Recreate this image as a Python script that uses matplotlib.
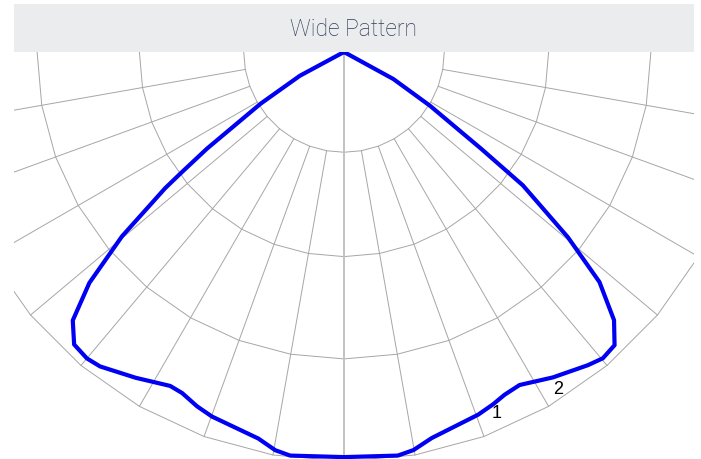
import numpy as np
import matplotlib
matplotlib.use("Agg")
import matplotlib.pyplot as plt

# Photometric curve (angle from nadir in degrees, negative = left; intensity in ring units)
angles = [-90, -61.7, -58.2, -54.8, -53.4, -52.7, -50.3, -47.8, -45.3, -42.7, -40.0,
          -37.8, -32.6, -27.5, -25.4, -22.5, -19.9, -12.5, -9.8, -7.6, 0,
          7.6, 9.9, 12.8, 20.3, 22.9, 25.1, 27.8, 32.7, 37.9, 40.2, 42.7,
          45.2, 48.0, 50.4, 53.3, 54.8, 58.0, 61.3, 90]
intensity = [0, 0.49, 0.96, 1.64, 1.99, 2.20, 2.82, 3.36, 3.73, 3.89, 3.91,
             3.89, 3.78, 3.68, 3.69, 3.75, 3.79, 3.87, 3.95, 3.98, 3.96,
             3.98, 3.95, 3.87, 3.78, 3.74, 3.70, 3.68, 3.78, 3.88, 3.92, 3.90,
             3.72, 3.36, 2.84, 2.18, 1.64, 0.99, 0.55, 0]

rings = [0.98, 2.0, 3.0, 4.0]
spoke_angles = [-80, -70, -60, -50, -40, -30, -20, -10, 10, 20, 30, 40, 50, 60, 70, 80]
ring_step = 10

labels = ["1", "2"]
label_angles = [23, 32.4]
label_radii = [3.83, 3.90]

title = "Wide Pattern"

# layout (pixels)
W, H = 701, 460
cx, cy = 344, 53
s = 102.3
left, right, top = 14, 694, 53


def to_xy(theta_deg, r):
    t = np.radians(np.asarray(theta_deg, dtype=float))
    r = np.asarray(r, dtype=float)
    return r * np.sin(t), -r * np.cos(t)


fig = plt.figure(figsize=(W / 100, H / 100), dpi=100)
ax = fig.add_axes([left / W, 0, (right - left) / W, (H - top) / H])
ax.set_xlim((left - cx) / s, (right - cx) / s)
ax.set_ylim(-(H - cy) / s, 0)
ax.axis("off")

gc = "#a6a6a6"
ring_theta = np.arange(-180, 181, ring_step)
for r in rings:
    x, y = to_xy(ring_theta, np.full(ring_theta.shape, r))
    ax.plot(x, y, color=gc, lw=0.7, zorder=1)

for a in spoke_angles:
    x, y = to_xy([a, a], [rings[0], rings[-1]])
    ax.plot(x, y, color=gc, lw=0.7, zorder=1)

x, y = to_xy([0, 0], [0, 5])
ax.plot(x, y, color="#c2c2c2", lw=1.4, zorder=1)

x, y = to_xy(angles, intensity)
ax.plot(x, y, color="#0000f2", lw=3.0, solid_joinstyle="round",
        solid_capstyle="round", zorder=3)

for lab, a, r in zip(labels, label_angles, label_radii):
    lx, ly = to_xy(a, r)
    ax.text(lx, ly, lab, ha="center", va="center", fontsize=13,
            family="Liberation Sans", color="black", zorder=4)

hax = fig.add_axes([left / W, (H - 53) / H, (right - left) / W, 48 / H])
hax.set_facecolor("#ebeced")
hax.set_xticks([])
hax.set_yticks([])
for sp in hax.spines.values():
    sp.set_visible(False)
hax.text(0.5, 0.5, title, ha="center", va="center", fontsize=16.5,
         family="Roboto", fontweight="light", color="#2f3c5c",
         transform=hax.transAxes)

fig.savefig("out.png", dpi=100)
